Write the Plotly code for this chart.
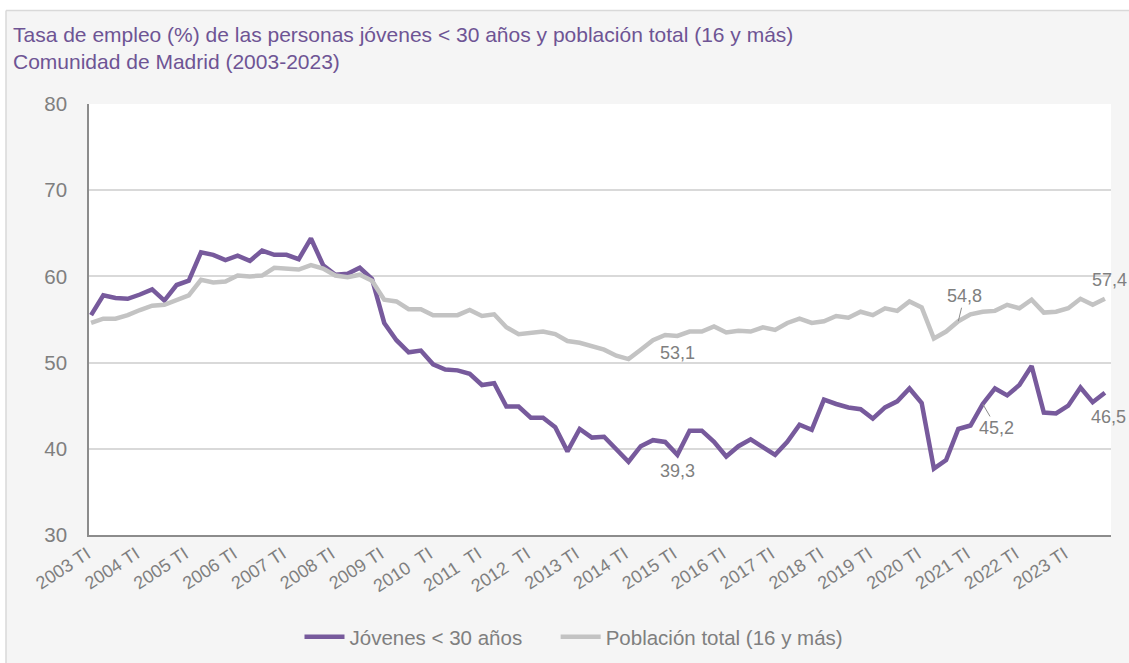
import plotly.graph_objects as go

years = list(range(2003, 2024))
quarters = ["TI", "TII", "TIII", "TIV"]
categories = [f"{y} {q}" for y in years for q in quarters]

jovenes = [55.5, 57.8, 57.5, 57.4, 57.9, 58.5, 57.2, 59.0, 59.5, 62.8, 62.5, 61.9,
           62.4, 61.8, 63.0, 62.5, 62.5, 62.0, 64.4, 61.3, 60.2, 60.3, 61.0, 59.7,
           54.6, 52.6, 51.2, 51.4, 49.8, 49.2, 49.1, 48.7, 47.4, 47.6, 44.9, 44.9,
           43.6, 43.6, 42.5, 39.7, 42.3, 41.3, 41.4, 40.0, 38.5, 40.3, 41.0, 40.8,
           39.3, 42.1, 42.1, 40.8, 39.1, 40.3, 41.1, 40.2, 39.3, 40.8, 42.8, 42.2,
           45.7, 45.2, 44.8, 44.6, 43.5, 44.8, 45.5, 47.0, 45.3, 37.7, 38.7, 42.3,
           42.7, 45.2, 47.0, 46.2, 47.4, 49.6, 44.2, 44.1, 45.0, 47.1, 45.4, 46.5]

total = [54.6, 55.1, 55.1, 55.5, 56.1, 56.6, 56.7, 57.3, 57.8, 59.6, 59.3, 59.4,
         60.1, 60.0, 60.1, 61.0, 60.9, 60.8, 61.3, 60.9, 60.1, 59.9, 60.2, 59.5,
         57.3, 57.1, 56.2, 56.2, 55.5, 55.5, 55.5, 56.1, 55.4, 55.6, 54.1, 53.3,
         53.5, 53.6, 53.3, 52.5, 52.3, 51.9, 51.5, 50.8, 50.4, 51.5, 52.6, 53.2,
         53.1, 53.6, 53.6, 54.2, 53.5, 53.7, 53.6, 54.1, 53.8, 54.6, 55.1, 54.6,
         54.8, 55.4, 55.2, 55.9, 55.5, 56.3, 56.0, 57.1, 56.4, 52.8, 53.6, 54.8,
         55.6, 55.9, 56.0, 56.7, 56.3, 57.3, 55.8, 55.9, 56.3, 57.4, 56.7, 57.4]

tick_vals = categories[::4]
tick_text = [c.replace(" ", "\u00a0\u00a0") if c[:4] in ("2010", "2011", "2012") else c
             for c in tick_vals]

series_names = ["Jóvenes < 30 años", "Población total (16 y más)"]

PURPLE = "#775a9c"
GRAY_LINE = "#c3c3c3"
TXT = "#7f7f7f"
FONT = "Liberation Sans, Arial, sans-serif"

W, H = 1129, 663
ML, MR, MT, MB = 89, 18, 104, 128
PW, PH = W - ML - MR, H - MT - MB


def px(xp):
    return (xp - ML) / PW


def py(yp):
    return (H - MB - yp) / PH


fig = go.Figure()
fig.add_trace(go.Scatter(x=categories, y=jovenes, mode="lines",
                         name=series_names[0] + "\u00a0" * 5,
                         line=dict(color=PURPLE, width=4.5)))
fig.add_trace(go.Scatter(x=categories, y=total, mode="lines", name=series_names[1],
                         line=dict(color=GRAY_LINE, width=4.5)))


def fmt(v):
    return f"{v:.1f}".replace(".", ",")


lab_font = dict(family=FONT, size=18, color=TXT)
anns = [
    dict(x=categories[48], y=total[48], text=fmt(total[48]), showarrow=False, yshift=-17),
    dict(x=categories[48], y=jovenes[48], text=fmt(jovenes[48]), showarrow=False, yshift=-16),
    dict(x=categories[83], y=total[83], text=fmt(total[83]), showarrow=False, yshift=19, xshift=5),
    dict(x=categories[83], y=jovenes[83], text=fmt(jovenes[83]), showarrow=False, yshift=-24, xshift=4),
    dict(x=categories[71], y=total[71], text=fmt(total[71]), showarrow=True, arrowhead=0,
         arrowwidth=1, arrowcolor="#8c8c8c", ax=6, ay=-25, standoff=0),
    dict(x=categories[73], y=jovenes[73], text=fmt(jovenes[73]), showarrow=True, arrowhead=0,
         arrowwidth=1, arrowcolor="#8c8c8c", ax=14, ay=24, standoff=0),
]
for a in anns:
    a.update(xref="x", yref="y", font=lab_font)

anns.append(dict(xref="paper", yref="paper", x=px(11), y=py(21), xanchor="left", yanchor="top",
                 align="left", showarrow=False,
                 text="Tasa de empleo (%) de las personas jóvenes < 30 años y población total (16 y más)"
                      "<br>Comunidad de Madrid (2003-2023)",
                 font=dict(family=FONT, size=21, color="#6e5494")))

shapes = [
    dict(type="rect", xref="paper", yref="paper", x0=px(-5), x1=px(W + 5), y0=py(10), y1=py(-5),
         fillcolor="white", line=dict(width=0), layer="below"),
    dict(type="rect", xref="paper", yref="paper", x0=px(-5), x1=px(6), y0=py(H + 5), y1=py(10),
         fillcolor="white", line=dict(width=0), layer="below"),
    dict(type="line", xref="paper", yref="paper", x0=px(6), x1=px(W + 5), y0=py(10.5), y1=py(10.5),
         line=dict(color="#d9d9d9", width=1.5)),
    dict(type="line", xref="paper", yref="paper", x0=px(6), x1=px(6), y0=py(10.5), y1=py(H + 5),
         line=dict(color="#d9d9d9", width=1.5)),
]

fig.update_layout(
    width=W, height=H,
    margin=dict(l=ML, r=MR, t=MT, b=MB, pad=0, autoexpand=False),
    paper_bgcolor="#f5f5f5", plot_bgcolor="white",
    font=dict(family=FONT, color=TXT),
    showlegend=True,
    legend=dict(orientation="h", xref="container", yref="container",
                x=574 / W, xanchor="center", y=1 - 637 / H, yanchor="middle",
                font=dict(family=FONT, size=20.5, color=TXT), bgcolor="rgba(0,0,0,0)",
                itemwidth=40, tracegroupgap=0),
    annotations=anns,
    shapes=shapes,
)

fig.update_xaxes(type="category", categoryorder="array", categoryarray=categories,
                 range=[-0.17, 83.5], tickmode="array", tickvals=tick_vals, ticktext=tick_text,
                 tickangle=-33, tickfont=dict(family=FONT, size=18, color=TXT),
                 ticklabelshift=-4,
                 showgrid=False, showline=True, linecolor="#8c8c8c", linewidth=1.5,
                 ticks="", zeroline=False, automargin=False)
fig.update_yaxes(range=[30, 80], dtick=10, tick0=30, showgrid=True, gridcolor="#d9d9d9",
                 gridwidth=1.5, showline=True, linecolor="#8c8c8c", linewidth=1.5,
                 ticks="", ticklabelstandoff=16, tickfont=dict(family=FONT, size=20.5, color=TXT),
                 zeroline=False, automargin=False)

fig.write_html("out.html", config={"displayModeBar": False},
               post_script="document.body.style.margin='0';document.body.style.overflow='hidden';")
